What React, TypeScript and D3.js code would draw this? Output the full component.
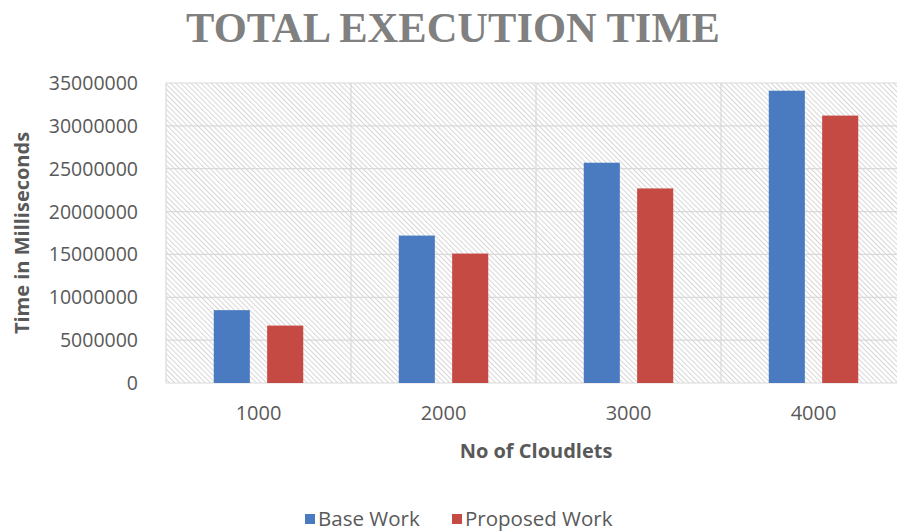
import React from "react";
import * as d3 from "d3";

const categories = ["1000", "2000", "3000", "4000"];
const seriesNames = ["Base Work", "Proposed Work"];
const baseWork = [8500000, 17200000, 25700000, 34100000];
const proposedWork = [6700000, 15100000, 22700000, 31200000];
const yTicks = [0, 5000000, 10000000, 15000000, 20000000, 25000000, 30000000, 35000000];
const colors = ["#4a7bc1", "#c54a44"];

const W = 897;
const H = 531;
const plot = { left: 166, right: 906, top: 83, bottom: 383 };
const FONT = "'Open Sans', 'DejaVu Sans', sans-serif";

export default function App() {
  const x0 = d3.scaleBand<string>().domain(categories).range([plot.left, plot.right]).padding(0);
  const x1 = d3
    .scaleBand<string>()
    .domain(seriesNames)
    .range([0, x0.bandwidth()])
    .paddingInner(0.324)
    .paddingOuter(0.895);
  const y = d3.scaleLinear().domain([0, 35000000]).range([plot.bottom, plot.top]);
  const seriesData = [baseWork, proposedWork];

  const boundaries = categories.map((c) => x0(c) as number).concat([plot.right]);

  return (
    <svg
      width={W}
      height={H}
      style={{ position: "absolute", left: 0, top: 0, background: "#fff" }}
    >
      <defs>
        <pattern
          id="hatch"
          patternUnits="userSpaceOnUse"
          width={3.6}
          height={3.6}
          patternTransform="rotate(-45)"
        >
          <rect width={3.6} height={3.6} fill="#ffffff" />
          <line x1={0.5} y1={0} x2={0.5} y2={3.6} stroke="#d6d6d6" strokeWidth={1} />
        </pattern>
      </defs>

      <text
        x={453}
        y={42}
        textAnchor="middle"
        fontFamily="'Liberation Serif', 'Times New Roman', serif"
        fontWeight="bold"
        fontSize={42.5}
        fill="#808080"
      >
        TOTAL EXECUTION TIME
      </text>

      <rect
        x={plot.left}
        y={plot.top}
        width={plot.right - plot.left}
        height={plot.bottom - plot.top}
        fill="url(#hatch)"
      />

      {yTicks.map((t) => (
        <line
          key={"h" + t}
          x1={plot.left}
          x2={plot.right}
          y1={y(t)}
          y2={y(t)}
          stroke="#d9d9d9"
          strokeWidth={1.2}
        />
      ))}
      {boundaries.map((b, i) => (
        <line
          key={"v" + i}
          x1={b}
          x2={b}
          y1={plot.top}
          y2={plot.bottom}
          stroke="#d9d9d9"
          strokeWidth={1.2}
        />
      ))}

      {categories.map((c, ci) => (
        <g key={c}>
          {seriesNames.map((s, si) => {
            const v = seriesData[si][ci];
            return (
              <rect
                key={s}
                x={(x0(c) as number) + (x1(s) as number)}
                y={y(v)}
                width={x1.bandwidth()}
                height={y(0) - y(v)}
                fill={colors[si]}
              />
            );
          })}
        </g>
      ))}

      {yTicks.map((t) => (
        <text
          key={"yt" + t}
          x={138}
          y={y(t)}
          dy="0.36em"
          textAnchor="end"
          fontFamily={FONT}
          fontSize={19.5}
          fill="#595959"
        >
          {String(t)}
        </text>
      ))}

      {categories.map((c) => (
        <text
          key={"xt" + c}
          x={(x0(c) as number) + x0.bandwidth() / 2}
          y={420}
          textAnchor="middle"
          fontFamily={FONT}
          fontSize={20}
          fill="#595959"
        >
          {c}
        </text>
      ))}

      <text
        x={(plot.left + plot.right) / 2}
        y={458}
        textAnchor="middle"
        fontFamily={FONT}
        fontWeight="bold"
        fontSize={20}
        fill="#595959"
      >
        No of Cloudlets
      </text>

      <text
        transform={`translate(29, ${(plot.top + plot.bottom) / 2}) rotate(-90)`}
        textAnchor="middle"
        fontFamily={FONT}
        fontWeight="bold"
        fontSize={20}
        fill="#595959"
      >
        Time in Milliseconds
      </text>

      {seriesNames.map((s, i) => {
        const lx = [305, 452][i];
        return (
          <g key={"lg" + s}>
            <rect x={lx} y={514} width={10} height={10} fill={colors[i]} />
            <text
              x={lx + 13}
              y={526}
              fontFamily={FONT}
              fontSize={20.5}
              fill="#595959"
            >
              {s}
            </text>
          </g>
        );
      })}
    </svg>
  );
}
